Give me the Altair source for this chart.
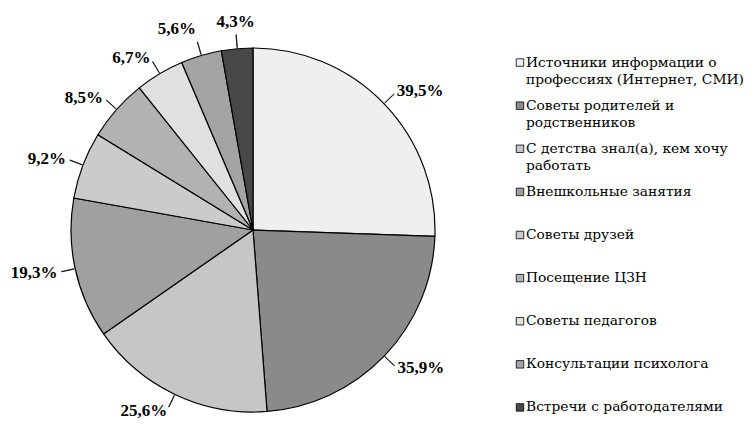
import altair as alt
import pandas as pd

# ---- data ----
categories = [
    "Источники информации о профессиях (Интернет, СМИ)",
    "Советы родителей и родственников",
    "С детства знал(а), кем хочу работать",
    "Внешкольные занятия",
    "Советы друзей",
    "Посещение ЦЗН",
    "Советы педагогов",
    "Консультации психолога",
    "Встречи с работодателями",
]
legend_labels = [
    "Источники информации о\nпрофессиях (Интернет, СМИ)",
    "Советы родителей и\nродственников",
    "С детства знал(а), кем хочу\nработать",
    "Внешкольные занятия",
    "Советы друзей",
    "Посещение ЦЗН",
    "Советы педагогов",
    "Консультации психолога",
    "Встречи с работодателями",
]
values = [39.5, 35.9, 25.6, 19.3, 9.2, 8.5, 6.7, 5.6, 4.3]
value_labels = ["39,5%", "35,9%", "25,6%", "19,3%", "9,2%", "8,5%", "6,7%", "5,6%", "4,3%"]

# ---- styles ----
fills = ["#efefef", "#8a8a8a", "#c6c6c6", "#a0a0a0", "#cbcbcb",
         "#b2b2b2", "#e0e0e0", "#a4a4a4", "#484848"]
CX, CY, R = 245, 222, 182

df = pd.DataFrame({
    "cat": categories,
    "leg": legend_labels,
    "value": values,
    "label": value_labels,
    "order": list(range(len(values))),
})

color_scale = alt.Scale(domain=categories, range=fills)

base = alt.Chart(df)

pie = base.mark_arc(radius=R, stroke="black", strokeWidth=1.2).encode(
    theta=alt.Theta("value:Q", stack=True),
    order=alt.Order("order:Q"),
    fill=alt.Fill("cat:N", scale=color_scale, legend=None),
    x=alt.value(CX),
    y=alt.value(CY),
)

angles = (
    base.transform_window(cum="sum(value)", sort=[alt.SortField("order")])
    .transform_joinaggregate(total="sum(value)")
    .transform_calculate(
        a="2*PI*(datum.cum - datum.value/2)/datum.total",
        a2="2*PI*(datum.cum - datum.value/2)/datum.total + 0.002",
    )
)

leaders = angles.mark_arc(
    radius=R + 14, radius2=R + 1, filled=False, stroke="black", strokeWidth=0.8
).encode(
    theta=alt.Theta("a:Q", scale=None, stack=False),
    theta2="a2:Q",
    x=alt.value(CX),
    y=alt.value(CY),
)

labels = angles.mark_text(
    radius=R + 18,
    font="Liberation Serif",
    fontSize=17,
    fontWeight="bold",
    color="black",
    align=alt.expr("sin(datum.a) > 0.12 ? 'left' : (sin(datum.a) < -0.12 ? 'right' : 'center')"),
    baseline=alt.expr("cos(datum.a) > 0.95 ? 'bottom' : (cos(datum.a) < -0.95 ? 'top' : 'middle')"),
).encode(
    theta=alt.Theta("a:Q", scale=None, stack=False),
    text="label:N",
    x=alt.value(CX),
    y=alt.value(CY),
)

leg_y = alt.Y("cat:N", scale=alt.Scale(type="point", domain=categories, range=[33, 421]), axis=None)

leg_sym = base.mark_square(size=56, stroke="black", strokeWidth=0.8, opacity=1).encode(
    x=alt.value(512),
    y=leg_y,
    fill=alt.Fill("cat:N", scale=color_scale, legend=None),
)

leg_text = base.mark_text(
    align="left", baseline="top", dy=-7, lineBreak="\n", lineHeight=17,
    font="DejaVu Serif", fontSize=13.8, color="black",
).encode(
    x=alt.value(518),
    y=leg_y,
    text="leg:N",
)

chart = (
    alt.layer(pie, leaders, labels, leg_sym, leg_text)
    .properties(
        width=739,
        height=420,
        padding=0,
        autosize=alt.AutoSizeParams(type="fit", contains="padding"),
        background="white",
    )
    .configure_view(stroke=None)
)

chart.save("out.html", embed_options={"renderer": "svg", "actions": False})
